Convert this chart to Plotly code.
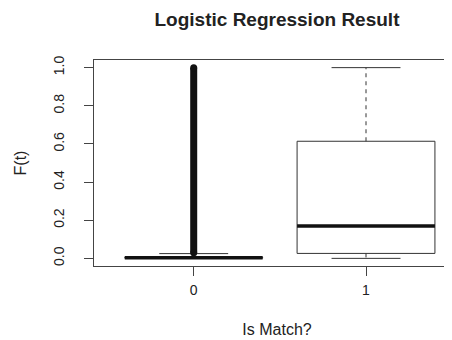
import plotly.graph_objects as go

# ---- data ----
categories = ["0", "1"]
q1 = [0.001, 0.026]
median = [0.003, 0.170]
q3 = [0.006, 0.614]
whisker_low = [0.0, 0.0]
whisker_high = [0.025, 1.0]
# category "0" has a dense run of outliers that fuse into a solid band
outlier_band_0 = [0.03, 1.0]

y_ticks = [0.0, 0.2, 0.4, 0.6, 0.8, 1.0]
y_tick_labels = ["0.0", "0.2", "0.4", "0.6", "0.8", "1.0"]

BOX_HALF = 0.4
CAP_HALF = 0.2
LINE_COL = "#333333"

fig = go.Figure()

for i, cat in enumerate(categories):
    xc = i + 1
    # box
    fig.add_trace(go.Scatter(
        x=[xc - BOX_HALF, xc + BOX_HALF, xc + BOX_HALF, xc - BOX_HALF, xc - BOX_HALF],
        y=[q1[i], q1[i], q3[i], q3[i], q1[i]],
        mode="lines", line=dict(color=LINE_COL, width=1), hoverinfo="skip"))
    # whiskers (dashed)
    fig.add_trace(go.Scatter(x=[xc, xc], y=[q3[i], whisker_high[i]], mode="lines",
                             line=dict(color=LINE_COL, width=1, dash="4px,4px"), hoverinfo="skip"))
    fig.add_trace(go.Scatter(x=[xc, xc], y=[q1[i], whisker_low[i]], mode="lines",
                             line=dict(color=LINE_COL, width=1, dash="4px,4px"), hoverinfo="skip"))
    # caps
    for v in (whisker_high[i], whisker_low[i]):
        fig.add_trace(go.Scatter(x=[xc - CAP_HALF, xc + CAP_HALF], y=[v, v], mode="lines",
                                 line=dict(color=LINE_COL, width=1), hoverinfo="skip"))

# outlier band for category 0
fig.add_trace(go.Scatter(x=[1, 1], y=outlier_band_0, mode="lines+markers",
                         line=dict(color="#111111", width=7),
                         marker=dict(color="#111111", size=7, symbol="circle"),
                         hoverinfo="skip"))

# medians (thick)
for i, cat in enumerate(categories):
    xc = i + 1
    fig.add_trace(go.Scatter(x=[xc - BOX_HALF, xc + BOX_HALF], y=[median[i], median[i]],
                             mode="lines", line=dict(color="#111111", width=3.5), hoverinfo="skip"))

FONT = "Liberation Sans, Arial, sans-serif"

fig.update_layout(
    width=452, height=340,
    margin=dict(l=86, r=0, t=52, b=82),
    paper_bgcolor="white", plot_bgcolor="white",
    showlegend=False, hovermode=False,
    font=dict(family=FONT, color="#222222", size=14),
    title=dict(text="<b>Logistic Regression Result</b>", x=0.5, xref="paper",
               y=1 - 11 / 340, yref="container", yanchor="middle", xanchor="center",
               font=dict(size=19, family=FONT, color="#222222")),
    xaxis=dict(range=[0.4213, 2.5455], tickvals=[1, 2], ticktext=categories,
               showgrid=False, zeroline=False, showline=True, mirror=True,
               linecolor="#444444", linewidth=1, ticks="outside", ticklen=9,
               tickcolor="#444444", tickfont=dict(size=14), ticklabelstandoff=2,
               title=dict(text="Is Match?", font=dict(size=16), standoff=27)),
    yaxis=dict(range=[-0.04, 1.04], tickvals=y_ticks, ticktext=y_tick_labels,
               showgrid=False, zeroline=False, showline=True, mirror=False,
               linecolor="#444444", linewidth=1, ticks="outside", ticklen=9,
               tickcolor="#444444", tickangle=-90, tickfont=dict(size=14),
               ticklabelstandoff=14,
               title=dict(text="F(t)", font=dict(size=16), standoff=20)),
)

fig.write_html("out.html")
